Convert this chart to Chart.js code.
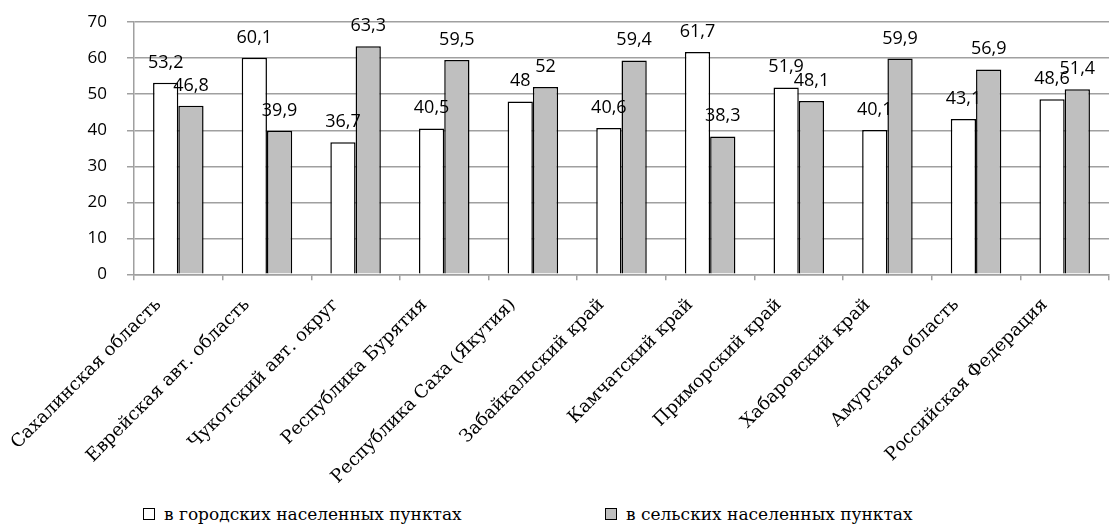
<!DOCTYPE html>
<html>
<head>
<meta charset="utf-8">
<script src="https://cdn.jsdelivr.net/npm/chart.js@4.4.1/dist/chart.umd.min.js"></script>
<style>
  html, body { margin: 0; padding: 0; background: #fff; overflow: hidden; }
  #wrap { position: relative; width: 1110px; height: 530px; overflow: hidden; }
  #regionChart { position: absolute; left: 0; top: -8px; }
  #legend { position: absolute; left: 0; top: 504px; width: 1110px; height: 24px;
            font-family: "DejaVu Serif", serif; font-size: 17px; color: #000; }
  .item { position: absolute; top: 0; white-space: nowrap; }
  .box { display: inline-block; width: 10px; height: 10px; border: 1.5px solid #000;
         margin-right: 9px; vertical-align: 0px; }
</style>
</head>
<body>
<div id="wrap">
  <canvas id="regionChart" width="1110" height="510"></canvas>
  <div id="legend"></div>
</div>
<script>
// regions (categories)
const regions = [
    'Сахалинская область',
    'Еврейская авт. область',
    'Чукотский авт. округ',
    'Республика Бурятия',
    'Республика Саха (Якутия)',
    'Забайкальский край',
    'Камчатский край',
    'Приморский край',
    'Хабаровский край',
    'Амурская область',
    'Российская Федерация'
];

// series values
const urbanValues = [53.2, 60.1, 36.7, 40.5, 48, 40.6, 61.7, 51.9, 40.1, 43.1, 48.6];
const ruralValues = [46.8, 39.9, 63.3, 59.5, 52, 59.4, 38.3, 48.1, 59.9, 56.9, 51.4];

// series names
const seriesNames = ['в городских населенных пунктах', 'в сельских населенных пунктах'];

// y axis ticks
const yTicks = [0, 10, 20, 30, 40, 50, 60, 70];

const seriesColors = ['#ffffff', '#bfbfbf'];

// value labels above bars (comma decimal)
const valueLabels = {
    id: 'valueLabels',
    afterDatasetsDraw(chart) {
        const c = chart.ctx;
        c.save();
        c.font = '18px "Open Sans", sans-serif';
        c.fillStyle = '#000';
        c.textAlign = 'center';
        c.textBaseline = 'alphabetic';
        chart.data.datasets.forEach((ds, i) => {
            const meta = chart.getDatasetMeta(i);
            meta.data.forEach((bar, j) => {
                const txt = String(ds.data[j]).replace('.', ',');
                c.fillText(txt, bar.x, bar.y - 15);
            });
        });
        c.restore();
    }
};

const ctx = document.getElementById('regionChart');

const regionChart = new Chart(ctx, {
    type: 'bar',
    data: {
        labels: regions,
        datasets: seriesNames.map((name, i) => ({
            label: name,
            data: i === 0 ? urbanValues : ruralValues,
            backgroundColor: seriesColors[i],
            borderColor: '#000000',
            borderWidth: 1.5,
            categoryPercentage: 0.57,
            barPercentage: 1.0
        }))
    },
    options: {
        responsive: false,
        animation: false,
        layout: { padding: { top: 0, right: 1, left: 0, bottom: 0 } },
        plugins: {
            legend: { display: false },
            tooltip: { enabled: false }
        },
        scales: {
            x: {
                grid: {
                    offset: true,
                    drawOnChartArea: false,
                    drawTicks: true,
                    tickLength: 6,
                    color: '#a0a0a0',
                    lineWidth: 1.5
                },
                border: { color: '#a0a0a0', width: 1.5 },
                ticks: {
                    autoSkip: false,
                    minRotation: 45,
                    maxRotation: 45,
                    color: '#000',
                    font: { family: '"DejaVu Serif", serif', size: 18 },
                    padding: 14,
                    labelOffset: -20
                }
            },
            y: {
                min: 0,
                max: 70,
                afterBuildTicks: axis => {
                    axis.ticks = yTicks.map(v => ({ value: v }));
                },
                // wide y axis so the plot starts where the original does
                afterFit: axis => { axis.width = 134; },
                grid: {
                    color: '#a0a0a0',
                    lineWidth: 1.5,
                    tickLength: 7
                },
                border: { color: '#a0a0a0', width: 1.5 },
                ticks: {
                    color: '#000',
                    font: { family: '"Open Sans", sans-serif', size: 17 },
                    padding: 20
                }
            }
        }
    },
    plugins: [valueLabels]
});

// legend built from the chart's datasets
const legendEl = document.getElementById('legend');
const legendX = [143, 605];
regionChart.data.datasets.forEach((ds, i) => {
    const item = document.createElement('span');
    item.className = 'item';
    item.style.left = legendX[i] + 'px';
    const box = document.createElement('span');
    box.className = 'box';
    box.style.background = ds.backgroundColor;
    item.appendChild(box);
    item.appendChild(document.createTextNode(ds.label));
    legendEl.appendChild(item);
});
</script>
</body>
</html>
